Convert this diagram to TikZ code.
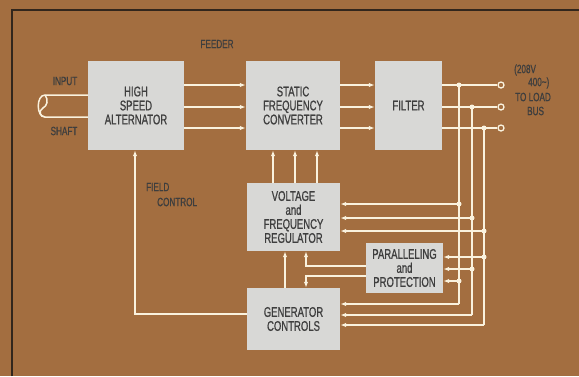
\documentclass[tikz,border=0pt]{standalone}
\usepackage{fontspec}
\setmainfont{Liberation Sans}[FakeStretch=0.68, FakeBold=0.8]
\usetikzlibrary{arrows.meta}
\definecolor{bg}{RGB}{163,110,64}
\definecolor{boxfill}{RGB}{216,216,214}
\definecolor{txt}{RGB}{62,62,62}
\definecolor{wire}{RGB}{250,242,222}
\definecolor{frame}{RGB}{50,38,28}
\tikzset{
  blk/.style={draw=none, fill=boxfill, text=txt, align=center, inner sep=0pt,
    font=\fontsize{14}{14}\selectfont},
  lbl/.style={text=txt, font=\fontsize{12}{12}\selectfont, inner sep=0pt},
  wr/.style={draw=wire, line width=1.5pt},
  ar/.style={wr, -{Latex[length=6pt,width=4.5pt]}},
  dot/.style={circle, fill=wire, inner sep=0pt, minimum size=5pt},
  term/.style={circle, draw=wire, line width=1.3pt, fill=bg, inner sep=0pt, minimum size=6pt}
}
\begin{document}
\begin{tikzpicture}[x=1pt,y=-1pt]
\fill[bg] (0,0) rectangle (579,376);
\useasboundingbox (0,0) rectangle (579,376);
\draw[frame, line width=2pt] (12,376) -- (12,10) -- (579,10);

% blocks
\node[blk, minimum width=96pt, minimum height=89pt] (hsa) at (136,105.5) {HIGH\\SPEED\\ALTERNATOR};
\node[blk, minimum width=94pt, minimum height=89pt] (sfc) at (293,105.5) {STATIC\\FREQUENCY\\CONVERTER};
\node[blk, minimum width=67pt, minimum height=89pt] (fil) at (408.5,105.5) {FILTER};
\node[blk, minimum width=93pt, minimum height=68pt] (vfr) at (293.5,217) {VOLTAGE\\and\\FREQUENCY\\REGULATOR};
\node[blk, minimum width=93pt, minimum height=62pt] (gc) at (293.5,319) {GENERATOR\\CONTROLS};
\node[blk, minimum width=77pt, minimum height=50pt] (pp) at (404.5,268) {PARALLELING\\and\\PROTECTION};

% labels
\node[lbl] (feeder) at (217,44) {FEEDER};
\node[lbl] (input) at (65,81) {INPUT};
\node[lbl] (shaft) at (64,131) {SHAFT};
\node[lbl, anchor=west] (field) at (146,187) {FIELD};
\node[lbl, anchor=west] (control) at (157,202) {CONTROL};
\node[lbl, anchor=west] (l1) at (514,70) {(208V};
\node[lbl, anchor=west] (l2) at (528,83) {400\textasciitilde)};
\node[lbl, anchor=west] (l3) at (515,97) {TO LOAD};
\node[lbl, anchor=west] (l4) at (527,111) {BUS};

% helper coordinates
\coordinate (y1) at (0,85);
\coordinate (y2) at (0,107);
\coordinate (y3) at (0,128);
\coordinate (v1) at (459,0);
\coordinate (v2) at (472,0);
\coordinate (v3) at (484,0);

% HSA -> SFC -> Filter
\foreach \y in {y1,y2,y3}{
  \draw[ar] (hsa.east |- \y) -- (sfc.west |- \y);
  \draw[ar] (sfc.east |- \y) -- (fil.west |- \y);
}
% outputs to load bus
\node[term] (o1) at (501,85) {};
\node[term] (o2) at (501,107) {};
\node[term] (o3) at (501,128) {};
\draw[wr] (fil.east |- y1) -- (o1);
\draw[wr] (fil.east |- y2) -- (o2);
\draw[wr] (fil.east |- y3) -- (o3);

% bus verticals
\draw[wr] (v1 |- y1) -- (459,304);
\draw[wr] (v2 |- y2) -- (472,315);
\draw[wr] (v3 |- y3) -- (484,325);
\node[dot] at (v1 |- y1) {};
\node[dot] at (v2 |- y2) {};
\node[dot] at (v3 |- y3) {};

% to VFR
\coordinate (a1) at (459,204);
\coordinate (a2) at (472,218);
\coordinate (a3) at (484,231);
\draw[ar] (a1) -- (vfr.east |- a1);
\draw[ar] (a2) -- (vfr.east |- a2);
\draw[ar] (a3) -- (vfr.east |- a3);
\node[dot] at (a1) {};
\node[dot] at (a2) {};
\node[dot] at (a3) {};

% to P&P
\coordinate (b3) at (484,257);
\coordinate (b2) at (472,269);
\coordinate (b1) at (459,281);
\draw[ar] (b3) -- (pp.east |- b3);
\draw[ar] (b2) -- (pp.east |- b2);
\draw[ar] (b1) -- (pp.east |- b1);
\node[dot] at (b3) {};
\node[dot] at (b2) {};
\node[dot] at (b1) {};

% to GC
\coordinate (c1) at (459,304);
\coordinate (c2) at (472,315);
\coordinate (c3) at (484,325);
\draw[ar] (c1) -- (gc.east |- c1);
\draw[ar] (c2) -- (gc.east |- c2);
\draw[ar] (c3) -- (gc.east |- c3);

% VFR -> SFC
\foreach \x in {273,295,317}{
  \coordinate (t) at (\x,0);
  \draw[ar] (vfr.north -| t) -- (sfc.south -| t);
}
% GC -> VFR
\coordinate (g) at (285,0);
\draw[ar] (gc.north -| g) -- (vfr.south -| g);
% P&P -> VFR and GC
\coordinate (p1) at (0,266);
\coordinate (p2) at (0,276);
\coordinate (px) at (306,0);
\draw[ar] (pp.west |- p1) -- (px |- p1) -- (vfr.south -| px);
\draw[ar] (pp.west |- p2) -- (px |- p2) -- (gc.north -| px);
% field control GC -> HSA
\coordinate (f) at (135,314);
\draw[ar] (gc.west |- f) -- (f) -- (hsa.south -| f);

% input shaft
\draw[wr] (hsa.west |- {(0,95)}) -- (45,95) .. controls (36,95) and (36,117) .. (45,117) -- (hsa.west |- {(0,117)});
\draw[wr] (45,95) .. controls (49,100) and (47,106) .. (43,108) .. controls (38,111) and (40,117) .. (45,117);
\end{tikzpicture}
\end{document}
